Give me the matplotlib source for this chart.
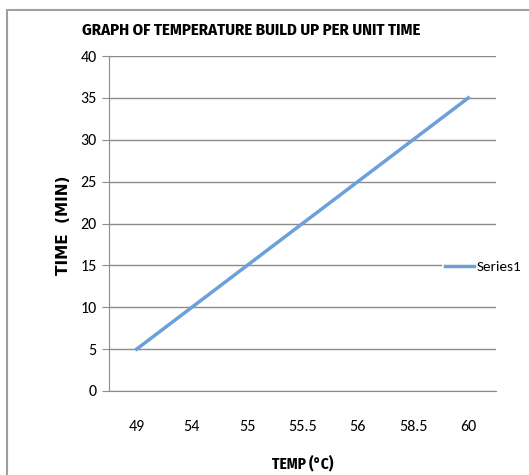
import matplotlib
matplotlib.use("Agg")
from matplotlib import pyplot as plt
from matplotlib.patches import Rectangle

temps = ['49', '54', '55', '55.5', '56', '58.5', '60']
times = [5, 10, 15, 20, 25, 30, 35]

plt.rcParams['font.family'] = ['Carlito', 'DejaVu Sans']
cond = ['Fira Sans Condensed', 'Carlito', 'DejaVu Sans']

W, H = 529, 475
fig = plt.figure(figsize=(W / 100, H / 100), dpi=100)
# outer chart border (runs off the right and bottom edges)
fig.patches.append(Rectangle((7 / W, -0.1), 1.2, 1 - 10 / H + 0.1, transform=fig.transFigure,
                             fill=False, edgecolor='#a0a0a0', linewidth=1.5))

ax = fig.add_axes([109 / W, 1 - 391 / H, 387 / W, 335 / H])
x = range(len(temps))
ax.plot(x, times, color='#6ca0dc', linewidth=2.5, label='Series1')
ax.set_xlim(-0.5, len(temps) - 0.5)
ax.set_ylim(0, 40)
ax.set_yticks(range(0, 41, 5))
ax.set_xticks(list(x))
ax.set_xticklabels(temps)
ax.yaxis.grid(True, color='#8c8c8c', linewidth=1)
ax.set_axisbelow(True)
for s in ['top', 'right']:
    ax.spines[s].set_visible(False)
ax.spines['left'].set_color('#8c8c8c')
ax.spines['bottom'].set_color('#8c8c8c')
ax.tick_params(axis='y', length=5, color='#8c8c8c', labelsize=11.5, pad=4)
ax.tick_params(axis='x', length=0, labelsize=11.5, pad=21)

ax.set_xlabel('TEMP (°C)', fontsize=11, fontweight='bold', family=cond, va='center')
ax.xaxis.set_label_coords((303 - 109) / 387, (391 - 463) / 335)
ax.set_ylabel('TIME  (MIN)', fontsize=11, fontweight='bold', family=['DejaVu Sans'], va='center')
ax.yaxis.set_label_coords((64 - 109) / 387, (391 - 225) / 335)
fig.text(251 / W, 1 - 30 / H, 'GRAPH OF TEMPERATURE BUILD UP PER UNIT TIME', ha='center', va='center',
         fontsize=12, fontweight='bold', family=cond)

leg = ax.legend(loc='center left', bbox_to_anchor=(442 / W, 1 - 267 / H),
                bbox_transform=fig.transFigure, frameon=True, fontsize=11,
                handlelength=1.9, handletextpad=0.15, borderpad=0.2, borderaxespad=0)
leg.get_frame().set_edgecolor('none')
leg.get_frame().set_facecolor('white')
leg.get_frame().set_alpha(1)

plt.savefig('out.png', dpi=100)
